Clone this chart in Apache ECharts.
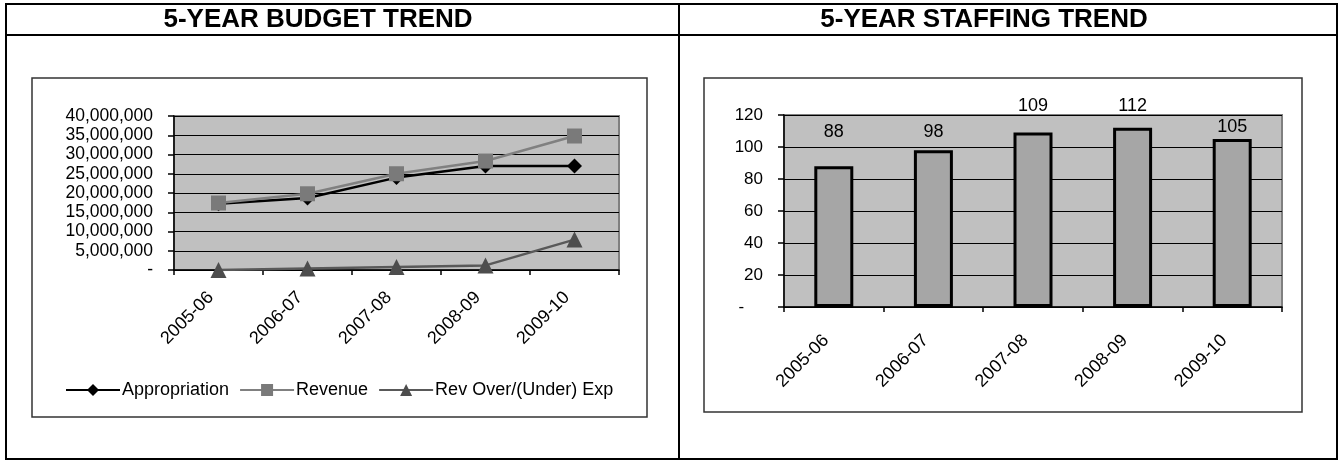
<!DOCTYPE html>
<html>
<head>
<meta charset="utf-8">
<script src="https://cdn.jsdelivr.net/npm/echarts@6/dist/echarts.min.js"></script>
<style>
html,body{margin:0;padding:0;background:#fff;}
#c{width:1340px;height:461px;}
</style>
</head>
<body>
<div id="c"></div>
<script>
// ---- data ----
const years = ['2005-06', '2006-07', '2007-08', '2008-09', '2009-10'];
const appropriation = [17200000, 18700000, 24000000, 27000000, 27000000];
const revenue = [17400000, 19800000, 25000000, 28300000, 34800000];
const revOverUnder = [0, 400000, 800000, 1200000, 7900000];
const staffing = [88, 98, 109, 112, 105];
const budgetTitle = '5-YEAR BUDGET TREND';
const staffingTitle = '5-YEAR STAFFING TREND';
// label lift above each bar (style only)
const labelLift = [25, 9, 18, 13, 3];

const FONT = '"Liberation Sans", Arial, sans-serif';
const chart = echarts.init(document.getElementById('c'), null, {renderer: 'canvas'});

function fmtMoney(v) {
  if (v === 0) return '-';
  return v.toString().replace(/\B(?=(\d{3})+(?!\d))/g, ',');
}

const axisTxt = {fontFamily: FONT, fontSize: 17, color: '#000'};
const catTxt = {fontFamily: FONT, fontSize: 18, color: '#000', padding: [0, 11, 0, 0]};

chart.setOption({
  animation: false,
  backgroundColor: '#fff',
  textStyle: {fontFamily: FONT},
  graphic: [
    {type: 'rect', shape: {x: 32, y: 78, width: 615, height: 339}, style: {fill: '#fff', stroke: '#333', lineWidth: 1.5}, z: -10},
    {type: 'rect', shape: {x: 704, y: 78, width: 598, height: 334}, style: {fill: '#fff', stroke: '#333', lineWidth: 1.5}, z: -10},
    {type: 'rect', shape: {x: 6, y: 4, width: 1331, height: 455}, style: {fill: 'none', stroke: '#000', lineWidth: 2}, z: 100},
    {type: 'line', shape: {x1: 6, y1: 35, x2: 1337, y2: 35}, style: {stroke: '#000', lineWidth: 2}, z: 100},
    {type: 'line', shape: {x1: 679, y1: 4, x2: 679, y2: 459}, style: {stroke: '#000', lineWidth: 2}, z: 100},
    {type: 'text', x: 318, y: 20, style: {text: budgetTitle, font: 'bold 26px ' + FONT, fill: '#000', align: 'center', verticalAlign: 'middle'}, z: 100},
    {type: 'text', x: 984, y: 20, style: {text: staffingTitle, font: 'bold 26px ' + FONT, fill: '#000', align: 'center', verticalAlign: 'middle'}, z: 100}
  ],
  legend: {
    left: 60, top: 376,
    itemWidth: 54, itemHeight: 15, itemGap: 10,
    textStyle: {fontFamily: FONT, fontSize: 18, color: '#000', padding: [0, 0, 0, -3]},
    data: ['Appropriation', 'Revenue', 'Rev Over/(Under) Exp']
  },
  grid: [
    {left: 174, top: 116, width: 445, height: 154, show: true, backgroundColor: '#c0c0c0', borderColor: '#808080', borderWidth: 2},
    {left: 784, top: 115, width: 498, height: 192, show: true, backgroundColor: '#c0c0c0', borderColor: '#808080', borderWidth: 2}
  ],
  xAxis: [
    {type: 'category', gridIndex: 0, data: years, boundaryGap: true,
     axisLine: {lineStyle: {color: '#000', width: 1.5}},
     axisTick: {show: true, length: 5, lineStyle: {color: '#000', width: 1.5}},
     axisLabel: Object.assign({rotate: 45, margin: 17, interval: 0}, catTxt)},
    {type: 'category', gridIndex: 1, data: years, boundaryGap: true,
     axisLine: {lineStyle: {color: '#000', width: 1.5}},
     axisTick: {show: true, length: 5, lineStyle: {color: '#000', width: 1.5}},
     axisLabel: Object.assign({rotate: 45, margin: 23, interval: 0}, catTxt)}
  ],
  yAxis: [
    {type: 'value', gridIndex: 0, min: 0, max: 40000000, interval: 5000000,
     axisLine: {show: true, lineStyle: {color: '#000', width: 1.5}},
     axisTick: {show: true, length: 6, lineStyle: {color: '#000', width: 1.5}},
     splitLine: {show: true, lineStyle: {color: '#000', width: 1}},
     axisLabel: Object.assign({margin: 21, formatter: fmtMoney}, axisTxt, {fontSize: 17.5})},
    {type: 'value', gridIndex: 1, min: 0, max: 120, interval: 20,
     axisLine: {show: true, lineStyle: {color: '#000', width: 1.5}},
     axisTick: {show: true, length: 6, lineStyle: {color: '#000', width: 1.5}},
     splitLine: {show: true, lineStyle: {color: '#000', width: 1}},
     axisLabel: Object.assign({margin: 21, formatter: v => v === 0 ? '-    ' : String(v)}, axisTxt)}
  ],
  series: [
    {name: 'Appropriation', type: 'line', xAxisIndex: 0, yAxisIndex: 0, data: appropriation,
     symbol: 'diamond', symbolSize: 15, showAllSymbol: true,
     itemStyle: {color: '#000'}, lineStyle: {color: '#000', width: 2.5}, z: 2},
    {name: 'Revenue', type: 'line', xAxisIndex: 0, yAxisIndex: 0, data: revenue,
     symbol: 'rect', symbolSize: 15, showAllSymbol: true,
     itemStyle: {color: '#7a7a7a'}, lineStyle: {color: '#808080', width: 2.5}, z: 3},
    {name: 'Rev Over/(Under) Exp', type: 'line', xAxisIndex: 0, yAxisIndex: 0, data: revOverUnder,
     symbol: 'triangle', symbolSize: 16, showAllSymbol: true,
     itemStyle: {color: '#4d4d4d'}, lineStyle: {color: '#595959', width: 2.5}, z: 4},
    {name: 'Staffing', type: 'bar', xAxisIndex: 1, yAxisIndex: 1,
     data: staffing.map((v, i) => ({value: v, label: {distance: labelLift[i]}})),
     barWidth: 39,
     itemStyle: {color: '#a6a6a6', borderColor: '#000', borderWidth: 3},
     label: {show: true, position: 'top', fontFamily: FONT, fontSize: 18, color: '#000'}}
  ]
});
</script>
</body>
</html>
